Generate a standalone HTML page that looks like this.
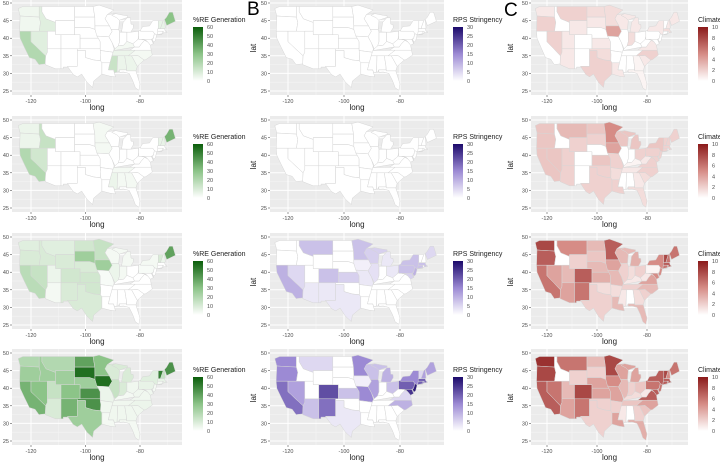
<!DOCTYPE html>
<html><head><meta charset="utf-8"><style>
html,body{margin:0;padding:0;background:#fff;}
svg{display:block;font-family:"Liberation Sans",sans-serif;}
</style></head><body>
<svg id="fig" width="720" height="462" viewBox="0 0 720 462" xmlns="http://www.w3.org/2000/svg">
<defs>
<linearGradient id="gA" x1="0" y1="1" x2="0" y2="0"><stop offset="0" stop-color="#ffffff"/><stop offset="0.5" stop-color="#8cc488"/><stop offset="1" stop-color="#0b5e0b"/></linearGradient>
<linearGradient id="gB" x1="0" y1="1" x2="0" y2="0"><stop offset="0" stop-color="#ffffff"/><stop offset="0.5" stop-color="#9c8ad4"/><stop offset="1" stop-color="#1c0a6b"/></linearGradient>
<linearGradient id="gC" x1="0" y1="1" x2="0" y2="0"><stop offset="0" stop-color="#ffffff"/><stop offset="0.5" stop-color="#d68c86"/><stop offset="1" stop-color="#8b1a1a"/></linearGradient>
</defs>
<text x="247" y="15" font-size="19" fill="#000">B</text>
<text x="504" y="16" font-size="19" fill="#000">C</text>
</svg>
<script>
const states = {
WA:[[-124.7,48.4],[-123,49],[-117,49],[-117,46],[-124,46.3]],
OR:[[-124,46.3],[-117,46],[-116.5,44.5],[-117,42],[-124.2,42]],
CA:[[-124.2,42],[-120,42],[-120,39],[-114.6,35],[-114.7,32.7],[-117.1,32.5],[-118.5,34],[-120.6,34.5],[-122.5,37.5],[-124,40]],
NV:[[-120,42],[-114,42],[-114,36],[-114.6,35],[-120,39]],
ID:[[-117,49],[-116,49],[-116,47.5],[-114.5,45.5],[-111,44.5],[-111,42],[-117,42],[-116.5,44.5],[-117,46]],
MT:[[-116,49],[-104,49],[-104,45],[-111,45],[-111,44.5],[-114.5,45.5],[-116,47.5]],
WY:[[-111,45],[-104,45],[-104,41],[-111,41]],
UT:[[-114,42],[-111,42],[-111,41],[-109,41],[-109,37],[-114,37]],
CO:[[-109,41],[-102,41],[-102,37],[-109,37]],
AZ:[[-114,37],[-109,37],[-109,31.3],[-111,31.3],[-114.8,32.5],[-114.6,35],[-114,36]],
NM:[[-109,37],[-103,37],[-103,32],[-106.6,32],[-106.5,31.8],[-108.2,31.8],[-108.2,31.3],[-109,31.3]],
ND:[[-104,49],[-97.2,49],[-96.6,46],[-104,46]],
SD:[[-104,46],[-96.6,46],[-96.5,42.5],[-98.5,43],[-104,43]],
NE:[[-104,43],[-98.5,43],[-96.5,42.5],[-95.3,40],[-102,40],[-102,41],[-104,41]],
KS:[[-102,40],[-95.3,40],[-94.6,39],[-94.6,37],[-102,37]],
OK:[[-103,37],[-94.6,37],[-94.4,35.4],[-94.5,33.6],[-97,33.8],[-100,34.5],[-100,36.5],[-103,36.5]],
TX:[[-103,36.5],[-100,36.5],[-100,34.5],[-97,33.8],[-94.5,33.6],[-94,33],[-94,29.8],[-97,27.8],[-97.4,26],[-99.5,27.5],[-101.4,29.8],[-103,29],[-104.5,29.7],[-106.6,32],[-103,32]],
MN:[[-97.2,49],[-95,49.4],[-89.6,48],[-92,46.7],[-92.8,45.5],[-91.2,43.5],[-96.5,43.5],[-96.6,46]],
IA:[[-96.5,43.5],[-91.2,43.5],[-90.2,42],[-91.4,40.4],[-95.8,40.6],[-96.5,42.5]],
MO:[[-95.8,40.6],[-91.4,40.4],[-90.2,38.7],[-89.5,37],[-89.7,36],[-94.6,36.5],[-94.6,39],[-95.3,40]],
AR:[[-94.6,36.5],[-89.7,36],[-91,33],[-94,33],[-94.5,33.6],[-94.4,35.4]],
LA:[[-94,33],[-91,33],[-91.6,31],[-89.7,31],[-89.4,30],[-89,29],[-91,29.2],[-94,29.8]],
WI:[[-92,46.7],[-89,47],[-87.8,45.3],[-87.5,45],[-87.8,42.5],[-90.6,42.5],[-91.2,43.5],[-92.8,45.5]],
IL:[[-90.6,42.5],[-87.8,42.5],[-87.5,41.7],[-87.5,39],[-88,37.5],[-89.2,37],[-90.2,38.7],[-91.4,40.4],[-90.2,42]],
MI:[[-86.8,41.8],[-84.8,41.7],[-83.4,41.7],[-82.4,43],[-82.5,43.9],[-83.3,44],[-83.5,45.8],[-84.7,45.8],[-86.2,44.5],[-86.5,43]],
MIU:[[-90.4,46.5],[-89,47],[-86,46.5],[-84.6,46.4],[-84.6,45.9],[-87.6,45.1],[-88.5,45.8]],
IN:[[-87.5,41.7],[-84.8,41.7],[-84.8,39.1],[-86,38],[-88,37.8],[-87.5,39]],
OH:[[-84.8,41.7],[-83.4,41.7],[-80.5,42],[-80.5,40.6],[-80.7,39.7],[-82.6,38.4],[-84.8,39.1]],
KY:[[-89.5,36.5],[-82,37.5],[-82.6,38.4],[-84.8,39.1],[-86,38],[-88,37.8],[-89.2,37]],
TN:[[-90.3,35],[-89.7,36.5],[-81.7,36.6],[-84.3,35],[-88.2,35]],
MS:[[-91,33],[-90.3,35],[-88.2,35],[-88.4,30.4],[-89.4,30.2],[-89.7,31],[-91.6,31]],
AL:[[-88.2,35],[-85.6,35],[-85,32],[-85,31],[-87.6,31],[-87.9,30.4],[-88.4,30.4]],
GA:[[-85.6,35],[-83.1,35],[-81,32],[-81.5,30.7],[-84.9,30.7],[-85,32]],
FL:[[-87.6,31],[-85,31],[-84.9,30.7],[-81.5,30.7],[-80,27],[-80.4,25.2],[-81.7,25.9],[-82.7,28],[-84,30],[-86,30.4],[-87.5,30.3]],
SC:[[-83.1,35],[-80.8,35.1],[-78.5,33.8],[-81,32]],
NC:[[-84.3,35],[-81.7,36.6],[-75.9,36.6],[-75.5,35.2],[-77.9,33.9],[-78.5,33.8],[-80.8,35.1],[-83.1,35]],
VA:[[-83.7,36.6],[-75.9,36.6],[-76.2,38],[-77.1,38.9],[-78.3,39.4],[-79.5,38.4],[-80.3,37.5],[-82,37.5]],
WV:[[-82.6,38.4],[-80.7,39.7],[-80.5,40.6],[-80.5,39.7],[-79.5,39.7],[-77.8,39.4],[-78.3,39.4],[-79.5,38.4],[-80.3,37.5],[-82,37.5]],
PA:[[-80.5,42],[-79.8,42.3],[-79.8,42],[-75.3,42],[-74.7,41.3],[-75.1,40],[-75.8,39.7],[-80.5,39.7]],
MD:[[-79.5,39.7],[-75.8,39.7],[-75.1,38.5],[-76.2,38],[-77.1,38.9],[-77.8,39.4]],
DE:[[-75.8,39.7],[-75.5,39.6],[-75,38.5],[-75.1,38.5]],
NJ:[[-75.1,40],[-74.7,41.3],[-73.9,41],[-74,40.5],[-74.4,39.3],[-75,38.9],[-75.5,39.6]],
NY:[[-79.8,42],[-79.8,42.3],[-79,43.3],[-76.5,43.5],[-75.3,45],[-73.3,45],[-73.3,41],[-71.9,41.1],[-73.9,41],[-74.7,41.3],[-75.3,42]],
VT:[[-73.3,45],[-71.5,45],[-72.5,42.7],[-73.3,42.7]],
NH:[[-71.5,45],[-71,45.3],[-70.7,43],[-71,42.7],[-72.5,42.7]],
MA:[[-73.5,42.7],[-71,42.7],[-70.7,42],[-70,41.7],[-71.4,41.5],[-73.5,42]],
CT:[[-73.5,42],[-71.8,42],[-71.8,41.3],[-73.7,41]],
RI:[[-71.8,42],[-71.4,42],[-71.3,41.5],[-71.8,41.3]],
ME:[[-71,45.3],[-70.2,43.6],[-67,44.8],[-68,47.4],[-69.2,47.4],[-70.3,45.9]]
};
// %RE Generation (0-60), per row
const reRow1 = {ME:30,CA:20,NV:8,WA:4,OR:4,ID:8,MS:14,AL:5,GA:5,TN:5,KY:3,NH:6,VT:6,SC:3,NC:3};
const reRow2 = {ME:35,CA:20,NV:12,ID:15,OR:5,WA:5,MS:5,AL:3,GA:3,TN:3,NH:6,VT:6,MN:3,IA:3};
const reRow3 = {ME:40,SD:25,IA:25,MN:15,ND:12,CA:18,NV:15,OR:10,WA:8,ID:10,MT:8,WY:10,CO:12,NE:10,KS:12,OK:12,TX:10,NM:10,UT:5,AZ:3,VT:10,NH:5,IL:5,IN:3,WI:3,MI:3,MIU:3,MO:2,NY:3,PA:2};
const reRow4 = {SD:55,IA:55,KS:45,OK:45,ND:40,MN:30,NM:35,CO:30,WY:25,TX:25,NE:25,CA:35,NV:30,OR:25,WA:20,ID:25,MT:20,UT:15,AZ:10,ME:45,VT:50,NH:15,IL:15,IN:10,WI:10,MI:10,MIU:10,MO:5,NY:8,PA:6,OH:4,KY:3,TN:4,AR:4,LA:3,MS:4,AL:4,GA:4,SC:4,NC:5,VA:4,WV:4,MA:6,CT:3,RI:3,NJ:3,MD:4,DE:3,FL:3};
// RPS Stringency (0-30)
const rpsRow1 = {};
const rpsRow2 = {};
const rpsRow3 = {CA:10,MT:8,CO:8,KS:6,MN:8,WI:6,MIU:6,NV:5,AZ:3,NM:3,TX:3,PA:8,NJ:10,NY:8,MA:8,CT:8,ME:5,DE:8,MD:6,IA:2,MO:3,IL:4,OH:3,MI:3};
const rpsRow4 = {CA:18,OR:15,WA:15,NV:12,AZ:8,CO:22,NM:18,MN:15,WI:8,MIU:8,IL:12,MO:15,MI:10,OH:8,PA:20,NJ:28,MD:25,DE:25,NY:15,MA:20,CT:20,RI:15,ME:12,NC:10,VA:5,NH:12,VT:5,KS:8,TX:3,MT:5,IA:2};
// Climate (0-10)
const climRow1 = {OR:2,NV:2,MT:2,ND:1.5,MN:1.5,WI:1,MIU:1,IA:4,OK:1.5,TX:2,NC:2,VA:1,NY:1,MI:1,IN:1.5,SD:1,KS:1,WA:1,ME:1,NH:1,MA:1.5,SC:1,GA:0.5,FL:0.5,LA:1,UT:1,AZ:1,WY:1};
const climRow2 = {OR:2.5,WA:2.5,CA:2.5,NV:2.5,MT:3,ND:2.5,MN:5,IA:4,WI:2.5,MIU:2.5,AZ:2,UT:2,WY:2,SD:2,KS:2.5,TX:2,OK:2,MO:2,MI:2.5,OH:2,NC:2,VA:2,SC:1.5,GA:1,TN:1,KY:0.5,AR:1.5,LA:2,FL:1.5,PA:2,NY:2.5,ME:2,VT:2,NH:2,MA:2,CT:2,NJ:2,MD:2,WV:1};
const climRow3 = {WA:8,OR:7,CA:6,NV:4,MT:5,WY:2,UT:3,CO:7,AZ:4,NM:6,ND:3,SD:2.5,NE:3,KS:3.5,OK:1.5,TX:2,MN:7,IA:4,WI:3,MIU:3,MO:3,AR:1.5,LA:3,IL:2,MI:3.5,IN:1.5,OH:2,KY:1,TN:2,MS:1,GA:1.5,FL:3,SC:2,NC:3,VA:4,WV:1,PA:0.5,NY:5,VT:8,NH:6,MA:7,ME:6,CT:6,RI:6,NJ:5,MD:5,DE:5};
const climRow4 = {WA:9,OR:8,CA:7,NV:6,MT:6,WY:2,UT:3,CO:8,AZ:4,NM:6,ND:3,SD:2,NE:4,KS:4,OK:2,TX:2,MN:8,IA:5,WI:4,MIU:4,MO:4,AR:2,LA:4,IL:3,MI:4,IN:2,OH:2.5,KY:1.5,TN:2.5,MS:1,GA:2,FL:3.5,SC:2.5,NC:4,VA:7,WV:1,PA:6,NY:7,VT:8,NH:5,MA:7,ME:6,CT:7,RI:7,NJ:6,MD:7,DE:6};

const latTicks = [25,30,35,40,45,50];
const lonTicks = [-120,-100,-80];
const reLegendTicks = [0,10,20,30,40,50,60];
const rpsLegendTicks = [0,5,10,15,20,25,30];
const climLegendTicks = [0,2,4,6,8,10];

const NS='http://www.w3.org/2000/svg';
const svg=document.getElementById('fig');
function mk(tag,attrs,parent){const e=document.createElementNS(NS,tag);for(const k in attrs)e.setAttribute(k,attrs[k]);(parent||svg).appendChild(e);return e;}
function lerp(a,b,t){return Math.round(a+(b-a)*t);}
function colorFor(v,max,mid,hi){
 const t=Math.max(0,Math.min(1,v/max));
 let a,b,u;
 if(t<0.5){a=[255,255,255];b=mid;u=t/0.5;}else{a=mid;b=hi;u=(t-0.5)/0.5;}
 return 'rgb('+lerp(a[0],b[0],u)+','+lerp(a[1],b[1],u)+','+lerp(a[2],b[2],u)+')';
}

const columns=[
 {key:'re',x0:12,x1:182,xRef:31,sx:2.725,max:60,mid:[140,196,136],hi:[11,94,11],grad:'gA',title:'%RE Generation',ticks:reLegendTicks,lx:193,rows:[reRow1,reRow2,reRow3,reRow4],latTitle:false},
 {key:'rps',x0:270,x1:444,xRef:288,sx:2.8,max:30,mid:[156,138,212],hi:[28,10,107],grad:'gB',title:'RPS Stringency',ticks:rpsLegendTicks,lx:453,rows:[rpsRow1,rpsRow2,rpsRow3,rpsRow4],latTitle:true,latX:256},
 {key:'clim',x0:531,x1:688,xRef:547,sx:2.5,max:10,mid:[214,140,134],hi:[139,26,26],grad:'gC',title:'Climate',ticks:climLegendTicks,lx:698,rows:[climRow1,climRow2,climRow3,climRow4],latTitle:true,latX:513}
];
const rowOff=[0,117,234,350];

columns.forEach(col=>{
 col.rows.forEach((vals,ri)=>{
  const off=rowOff[ri];
  const X=lon=>col.xRef+(lon+120)*col.sx;
  const Y=lat=>off+3+(50-lat)*3.52;
  const g=mk('g',{});
  
  
  const top=off-1,bot=off+95;
  const bg=mk('rect',{x:col.x0,y:top,width:col.x1-col.x0,height:bot-top,fill:'#ebebeb'},g);
  
  
  [-110,-90,-70].forEach(l=>mk('line',{x1:X(l),x2:X(l),y1:top,y2:bot,stroke:'#f5f5f5','stroke-width':0.5},g));
  [27.5,32.5,37.5,42.5,47.5].forEach(l=>mk('line',{x1:col.x0,x2:col.x1,y1:Y(l),y2:Y(l),stroke:'#f5f5f5','stroke-width':0.5},g));
  lonTicks.forEach(l=>mk('line',{x1:X(l),x2:X(l),y1:top,y2:bot,stroke:'#fff','stroke-width':1},g));
  latTicks.forEach(l=>mk('line',{x1:col.x0,x2:col.x1,y1:Y(l),y2:Y(l),stroke:'#fff','stroke-width':1},g));
  for(const s in states){
   const v=vals[s]||0;
   const p=mk('polygon',{points:states[s].map(c=>X(c[0]).toFixed(1)+','+Y(c[1]).toFixed(1)).join(' '),fill:colorFor(v,col.max,col.mid,col.hi),stroke:'#d6d6d6','stroke-width':0.5},g);
   
   
  }
  latTicks.forEach(l=>{
   mk('line',{x1:col.x0-2,x2:col.x0,y1:Y(l),y2:Y(l),stroke:'#333','stroke-width':0.5},g);
   const t=mk('text',{x:col.x0-3,y:Y(l)+2,'font-size':5.5,fill:'#4d4d4d','text-anchor':'end'},g);
   t.textContent=l;
   
   
  });
  lonTicks.forEach(l=>{
   mk('line',{x1:X(l),x2:X(l),y1:bot,y2:bot+2,stroke:'#333','stroke-width':0.5},g);
   const t=mk('text',{x:X(l),y:bot+8,'font-size':5.5,fill:'#4d4d4d','text-anchor':'middle'},g);
   t.textContent=l;
   
   
  });
  const xt=mk('text',{x:(col.x0+col.x1)/2,y:off+110,'font-size':8,fill:'#222','text-anchor':'middle'},g);
  xt.textContent='long';
  
  
  if(col.latTitle){
   const yt=mk('text',{x:col.latX,y:off+48,'font-size':8,fill:'#222','text-anchor':'middle',transform:'rotate(-90 '+col.latX+' '+(off+48)+')'},g);
   yt.textContent='lat';
   
   
  }
  const lg=mk('g',{},g);
  
  
  const tt=mk('text',{x:col.lx,y:off+22,'font-size':7,fill:'#222'},lg);
  tt.textContent=col.title;
  
  
  const cbTop=off+27,cbBot=off+81;
  const cb=mk('rect',{x:col.lx,y:cbTop,width:10,height:cbBot-cbTop,fill:'url(#'+col.grad+')'},lg);
  
  
  col.ticks.forEach(v=>{
   const yy=cbBot-(v/col.max)*(cbBot-cbTop);
   const t=mk('text',{x:col.lx+14,y:yy+2,'font-size':5.5,fill:'#4d4d4d'},lg);
   t.textContent=v;
   
   
  });
 });
});
</script>
</body></html>
